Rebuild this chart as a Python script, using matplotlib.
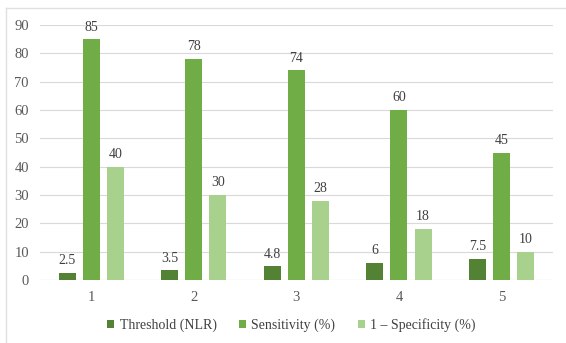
import matplotlib.pyplot as plt
import numpy as np
from matplotlib.lines import Line2D

categories = ["1", "2", "3", "4", "5"]
threshold = [2.5, 3.5, 4.8, 6, 7.5]
sensitivity = [85, 78, 74, 60, 45]
one_minus_spec = [40, 30, 28, 18, 10]
threshold_labels = ["2.5", "3.5", "4.8", "6", "7.5"]
series_names = ["Threshold (NLR)", "Sensitivity (%)", "1 \u2013 Specificity (%)"]

plt.rcParams['font.family'] = ['Liberation Serif', 'DejaVu Serif']

fig = plt.figure(figsize=(5.66, 3.43), dpi=100)
ax = fig.add_axes([0.0707, 0.1837, 0.906, 0.7433])

colors = ['#548235', '#70AD47', '#A9D18E']
x = np.arange(len(categories))
width = 0.166
step = 0.235

all_series = [threshold, sensitivity, one_minus_spec]
for i, (vals, name, c) in enumerate(zip(all_series, series_names, colors)):
    bars = ax.bar(x + (i - 1) * step, vals, width, color=c, label=name, zorder=3)
    labels = threshold_labels if i == 0 else [str(v) for v in vals]
    ax.bar_label(bars, labels=labels, padding=4, fontsize=10, color='#404040')

ax.set_xlim(-0.5, len(categories) - 0.5)
ax.set_ylim(0, 90)
ax.set_yticks(range(0, 91, 10))
ax.set_xticks(x)
ax.set_xticklabels(categories)
ax.tick_params(axis='both', length=0, labelsize=10.5, colors='#595959', pad=8)
ax.grid(axis='y', color='#D9D9D9', linewidth=0.8, zorder=0)
for s in ax.spines.values():
    s.set_visible(False)
ax.axhline(0, color='#D9D9D9', linewidth=0.8, zorder=1)

fig.legend(loc='center', bbox_to_anchor=(0.515, 0.052), ncol=3, frameon=False,
           fontsize=10, handlelength=0.5, handleheight=0.5, handletextpad=0.4,
           columnspacing=1.6, labelcolor='#404040')

# thin frame of the original picture
fig.add_artist(Line2D([6 / 566, 6 / 566], [0, 1 - 8 / 343], transform=fig.transFigure,
                      color='#E0E0E0', linewidth=1))
fig.add_artist(Line2D([6 / 566, 1], [1 - 8 / 343, 1 - 8 / 343], transform=fig.transFigure,
                      color='#E0E0E0', linewidth=1))

plt.savefig("out.png", dpi=100)
